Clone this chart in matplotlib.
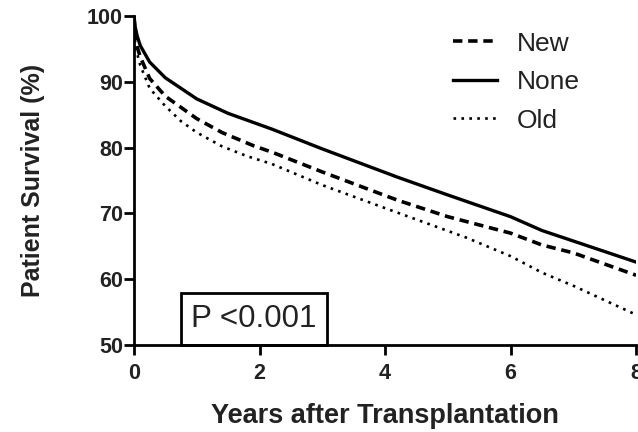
import matplotlib
matplotlib.use("Agg")
import matplotlib.pyplot as plt
from matplotlib.patches import Rectangle

plt.rcParams['font.family'] = ['Liberation Sans', 'DejaVu Sans']

# Kaplan-Meier style survival (%) by years after transplantation
years_none = [0, 0.02, 0.05, 0.1, 0.25, 0.5, 1.0, 1.5, 2.2, 3.0, 4.2, 5.0, 6.0, 6.5, 7.0, 8.0]
surv_none = [100, 98.3, 97.0, 95.5, 93.0, 90.6, 87.4, 85.2, 82.8, 79.8, 75.5, 72.8, 69.5, 67.4, 65.8, 62.6]

years_new = [0, 0.02, 0.05, 0.1, 0.25, 0.5, 1.0, 1.4, 1.9, 2.2, 3.0, 4.2, 5.0, 6.0, 6.5, 7.0, 8.0]
surv_new = [100, 96.5, 95.3, 93.8, 90.5, 87.8, 84.4, 82.3, 80.3, 79.3, 76.3, 72.0, 69.5, 67.0, 65.2, 64.0, 60.6]

years_old = [0, 0.02, 0.05, 0.1, 0.25, 0.5, 0.75, 1.0, 1.4, 1.8, 2.2, 3.0, 4.0, 5.3, 6.0, 6.5, 7.0, 8.0]
surv_old = [100, 95.5, 94.3, 92.5, 89.0, 86.3, 84.0, 82.3, 80.2, 78.7, 77.5, 74.3, 70.8, 66.3, 63.5, 61.0, 59.0, 54.6]

x_ticks = [0, 2, 4, 6, 8]
y_ticks = [50, 60, 70, 80, 90, 100]
p_text = "P <0.001"

fig = plt.figure(figsize=(6.38, 4.32), dpi=100)
ax = fig.add_axes([0.210, 0.2014, 0.787, 0.7616])

ax.plot(years_new, surv_new, color='black', lw=2.6, linestyle=(0, (2.6, 1.6)), label='New')
ax.plot(years_none, surv_none, color='black', lw=2.4, linestyle='-', label='None')
ax.plot(years_old, surv_old, color='black', lw=1.9, linestyle=(0, (1, 2.0)), label='Old')

ax.set_xlim(0, 8)
ax.set_ylim(50, 100)
ax.set_xticks(x_ticks)
ax.set_yticks(y_ticks)

for side in ['top', 'right']:
    ax.spines[side].set_visible(False)
for side in ['left', 'bottom']:
    ax.spines[side].set_linewidth(2.0)

ax.tick_params(axis='both', width=2.0, length=7, labelsize=15.5)
ax.tick_params(axis='y', pad=1)
ax.tick_params(axis='x', pad=6)
for lab in ax.get_xticklabels() + ax.get_yticklabels():
    lab.set_fontweight('bold')
    lab.set_color('#222222')

ax.set_xlabel('Years after Transplantation', fontsize=19.5, fontweight='bold',
              color='#222222', labelpad=14)
ax.set_ylabel('Patient Survival (%)', fontsize=18, fontweight='bold',
              color='#222222', labelpad=30)

leg = ax.legend(loc='upper right', bbox_to_anchor=(0.935, 1.025), frameon=False,
                fontsize=19, handlelength=1.65, handletextpad=0.75, labelspacing=0.55)
for txt in leg.get_texts():
    txt.set_color('#222222')

# p-value box sitting on the x axis
box = Rectangle((0.75, 50), 2.33, 7.9, fill=False, edgecolor='black', lw=2.0,
                clip_on=False, zorder=3)
ax.add_patch(box)
ax.text(1.9, 53.9, p_text, fontsize=22.5, ha='center', va='center', color='#222222')

fig.savefig('out.png', dpi=100)
